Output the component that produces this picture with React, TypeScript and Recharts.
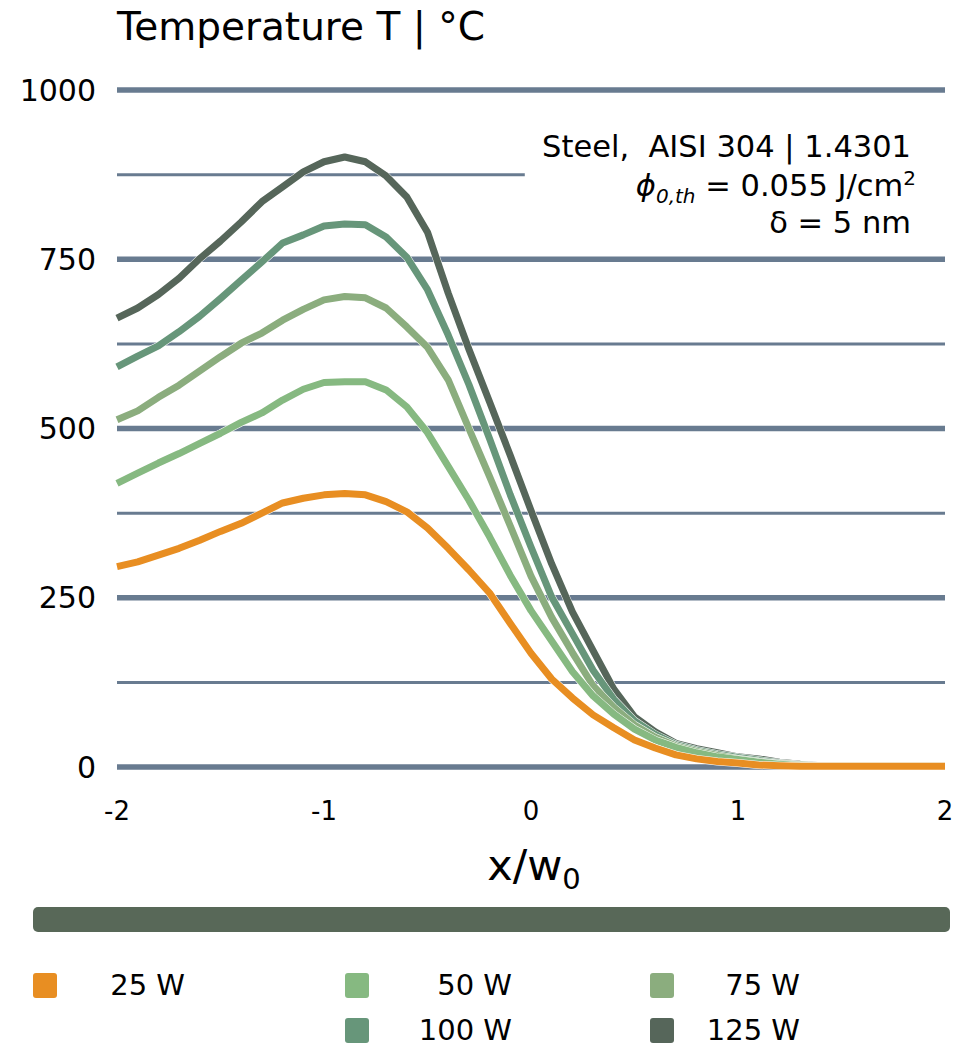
import React from 'react';
import { LineChart, Line, XAxis, YAxis, ReferenceLine } from 'recharts';

const FONT = '"DejaVu Sans", Verdana, sans-serif';

// normalised position x/w0
const xPositions = [
  -2.0, -1.9, -1.8, -1.7, -1.6, -1.5, -1.4, -1.3, -1.2, -1.1, -1.0,
  -0.9, -0.8, -0.7, -0.6, -0.5, -0.4, -0.3, -0.2, -0.1, 0.0,
  0.1, 0.2, 0.3, 0.4, 0.5, 0.6, 0.7, 0.8, 0.9, 1.0,
  1.1, 1.2, 1.3, 1.4, 1.5, 1.6, 1.7, 1.8, 1.9, 2.0,
];

// surface temperature in °C per laser power
const temp25W = [
  296, 303, 313, 323, 335, 348, 360, 375, 390, 397, 402,
  404, 402, 392, 377, 353, 323, 291, 257, 212, 168,
  130, 102, 77, 58, 40, 28, 18, 12, 8, 6,
  3, 2, 1, 1, 1, 1, 1, 1, 1, 1,
];
const temp50W = [
  419, 434, 449, 463, 478, 493, 509, 523, 542, 558, 568,
  569, 569, 557, 532, 494, 444, 394, 340, 283, 231,
  186, 141, 105, 78, 56, 40, 29, 21, 15, 11,
  7, 4, 2, 1, 1, 1, 1, 1, 1, 1,
];
const temp75W = [
  513, 526, 546, 564, 585, 606, 626, 641, 660, 676, 690,
  695, 693, 678, 650, 620, 572, 500, 429, 356, 282,
  221, 169, 120, 88, 62, 44, 31, 23, 17, 12,
  8, 5, 3, 1, 1, 1, 1, 1, 1, 1,
];
const temp100W = [
  591, 607, 622, 643, 666, 692, 719, 746, 774, 786, 799,
  802, 801, 783, 753, 705, 638, 565, 485, 402, 325,
  251, 197, 143, 100, 68, 48, 33, 25, 19, 14,
  10, 6, 3, 2, 1, 1, 1, 1, 1, 1,
];
const temp125W = [
  663, 678, 698, 722, 751, 777, 805, 835, 857, 879, 894,
  901, 894, 873, 842, 790, 700, 617, 539, 460, 379,
  300, 229, 172, 115, 74, 52, 35, 27, 21, 15,
  12, 7, 4, 2, 1, 1, 1, 1, 1, 1,
];

const powerLabels = ['25 W', '50 W', '75 W', '100 W', '125 W'];
const seriesColors = ['#e88e22', '#86b981', '#8bad7e', '#67967a', '#56665a'];
const seriesValues = [temp25W, temp50W, temp75W, temp100W, temp125W];

const xTicks = [-2, -1, 0, 1, 2];
const yMajorTicks = [0, 250, 500, 750, 1000];
const yMinorTicks = [125, 375, 625];

const series = powerLabels.map((label, i) => ({
  key: `p${i}`,
  label,
  color: seriesColors[i],
  values: seriesValues[i],
}));

const rows = xPositions.map((x, i) => {
  const row: Record<string, number> = { x };
  series.forEach((s) => {
    row[s.key] = s.values[i];
  });
  return row;
});

const GRID = '#687b90';

// legend grid: marker left edges and right edges of the text, per column
const legendCols = [
  { marker: 33, textRight: 185 },
  { marker: 345, textRight: 512 },
  { marker: 650, textRight: 800 },
];
const legendRows = [985, 1030];
const legendSlots = [
  [0, 0], [0, 1], [0, 2], [1, 1], [1, 2],
];

const XAxisTitle = (props: any) => {
  const { x, y, width } = props.viewBox;
  return (
    <text x={x + width / 2 + 3} y={y + 113} textAnchor="middle" fontFamily={FONT} fontSize={43} fill="#000">
      x/w
      <tspan fontSize={29} dy={9}>0</tspan>
    </text>
  );
};

export default function App() {
  // drawn back to front so the 25 W curve ends up on top
  const drawOrder = [...series].reverse();

  return (
    <div style={{ position: 'relative', width: 963, height: 1047, background: '#fff' }}>
      <style>{'body{margin:0}'}</style>

      <LineChart width={963} height={900} data={rows} margin={{ top: 90, right: 18, left: 0, bottom: 0 }}>
        <XAxis
          dataKey="x"
          type="number"
          domain={[-2, 2]}
          ticks={xTicks}
          axisLine={false}
          tickLine={false}
          tickSize={0}
          tickMargin={35}
          height={133}
          tick={{ fontSize: 26, fill: '#000', fontFamily: FONT }}
          label={<XAxisTitle />}
        />
        <YAxis
          type="number"
          domain={[0, 1000]}
          ticks={yMajorTicks}
          axisLine={false}
          tickLine={false}
          tickSize={0}
          tickMargin={21}
          width={117}
          tick={{ fontSize: 30, fill: '#000', fontFamily: FONT }}
        />

        {yMinorTicks.map((v) => (
          <ReferenceLine key={`minor-${v}`} y={v} stroke={GRID} strokeWidth={3} />
        ))}
        <ReferenceLine
          segment={[{ x: -2, y: 875 }, { x: -0.03, y: 875 }]}
          stroke={GRID}
          strokeWidth={3}
        />
        {yMajorTicks.map((v) => (
          <ReferenceLine key={`major-${v}`} y={v} stroke={GRID} strokeWidth={5.5} />
        ))}

        {drawOrder.flatMap((s) => [
          <Line
            key={`${s.key}-halo`}
            dataKey={s.key}
            type="linear"
            stroke="#ffffff"
            strokeWidth={8}
            strokeLinejoin="round"
            dot={false}
            activeDot={false}
            legendType="none"
            isAnimationActive={false}
          />,
          <Line
            key={s.key}
            dataKey={s.key}
            name={s.label}
            type="linear"
            stroke={s.color}
            strokeWidth={7}
            strokeLinejoin="round"
            dot={false}
            activeDot={false}
            isAnimationActive={false}
          />,
        ])}
      </LineChart>

      <svg
        width={963}
        height={1047}
        style={{ position: 'absolute', left: 0, top: 0, pointerEvents: 'none' }}
        fontFamily={FONT}
      >
        <text x={117} y={40} fontSize={39} fill="#000">
          Temperature T | °C
        </text>

        <g fontSize={30.5} fill="#000" textAnchor="end">
          <text x={911} y={157} xmlSpace="preserve">Steel,  AISI 304 | 1.4301</text>
          <text x={916} y={196}>
            <tspan fontStyle="italic">ϕ</tspan>
            <tspan fontStyle="italic" fontSize={20} dy={7}>0,th</tspan>
            <tspan dy={-7}> = 0.055 J/cm</tspan>
            <tspan fontSize={20} dy={-11}>2</tspan>
          </text>
          <text x={911} y={233}>δ = 5 nm</text>
        </g>

        <rect x={33} y={907} width={917} height={25} rx={5} fill="#586858" />

        {series.map((s, i) => {
          const [r, c] = legendSlots[i];
          const cy = legendRows[r];
          const col = legendCols[c];
          return (
            <g key={s.key}>
              <rect x={col.marker} y={cy - 12} width={24} height={25} rx={3} fill={s.color} />
              <text x={col.textRight} y={cy + 10} fontSize={29} textAnchor="end" fill="#000">
                {s.label}
              </text>
            </g>
          );
        })}
      </svg>
    </div>
  );
}
